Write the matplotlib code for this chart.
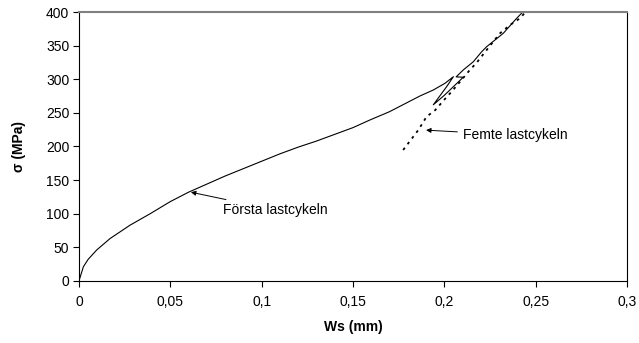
import matplotlib
matplotlib.use("Agg")
import matplotlib.pyplot as plt

plt.rcParams["font.family"] = ["Liberation Sans", "DejaVu Sans"]

# First load cycle (solid), incl. small unload/reload loop near 300 MPa
first_ws = [0.0, 0.0024, 0.005, 0.0097, 0.017, 0.028, 0.039, 0.05, 0.06,
            0.07, 0.08, 0.09, 0.10, 0.11, 0.12, 0.13, 0.14, 0.15, 0.1593,
            0.17, 0.1867, 0.194, 0.2004, 0.205, 0.2013, 0.194, 0.200, 0.2104,
            0.2065, 0.2104, 0.2159, 0.2205, 0.2232, 0.2323, 0.2396, 0.243]
first_s = [0, 21, 32, 46, 63, 83, 100, 118, 132,
           144, 156, 167, 178, 189, 199, 208, 218, 228, 239.4,
           251.7, 275.1, 284, 294, 303.8, 289, 262, 276, 303,
           303.5, 313.8, 326, 341, 348.4, 368.3, 390.6, 400]

# Fifth load cycle (dotted)
fifth_ws = [0.1775, 0.1858, 0.1903, 0.195, 0.1995, 0.204, 0.2095, 0.214,
            0.2177, 0.2232, 0.2305, 0.236, 0.2414, 0.2445]
fifth_s = [194.8, 224.5, 244.3, 254, 268, 281.5, 299, 313.8,
           324.5, 343.5, 368.3, 380.7, 390.6, 400]

x_ticks = [0, 0.05, 0.1, 0.15, 0.2, 0.25, 0.3]
x_tick_labels = ["0", "0,05", "0,1", "0,15", "0,2", "0,25", "0,3"]
y_ticks = [0, 50, 100, 150, 200, 250, 300, 350, 400]

fig = plt.figure(figsize=(6.39, 3.43), dpi=100)
ax = fig.add_axes([0.1236, 0.181, 0.8575, 0.784])

ax.plot(first_ws, first_s, color="black", lw=0.8)
ax.plot(fifth_ws, fifth_s, color="black", lw=1.3, linestyle=(0, (1.5, 2.5)))

arrow = dict(arrowstyle="-|>", color="black", lw=0.7, mutation_scale=7)
ax.annotate("Första lastcykeln", xy=(0.0598, 132.8), xytext=(0.0788, 105.6),
            fontsize=10, va="center", ha="left", arrowprops=arrow)
ax.annotate("Femte lastcykeln", xy=(0.1885, 224.5), xytext=(0.2102, 217),
            fontsize=10, va="center", ha="left", arrowprops=arrow)

ax.set_xlim(0, 0.3)
ax.set_ylim(0, 400)
ax.set_xticks(x_ticks)
ax.set_xticklabels(x_tick_labels)
ax.set_yticks(y_ticks)
ax.tick_params(direction="out", length=4, width=0.8, labelsize=10, color="black")
ax.tick_params(axis="x", pad=6)
ax.tick_params(axis="y", pad=3)

for side in ["left", "bottom", "right"]:
    ax.spines[side].set_color("black")
    ax.spines[side].set_linewidth(0.8)
ax.spines["top"].set_color("#808080")
ax.spines["top"].set_linewidth(1.5)

ax.set_xlabel("Ws (mm)", fontsize=10, fontweight="bold", labelpad=8)
ax.set_ylabel("σ (MPa)", fontsize=10, fontweight="bold", labelpad=14)

fig.savefig("out.png", dpi=100)
